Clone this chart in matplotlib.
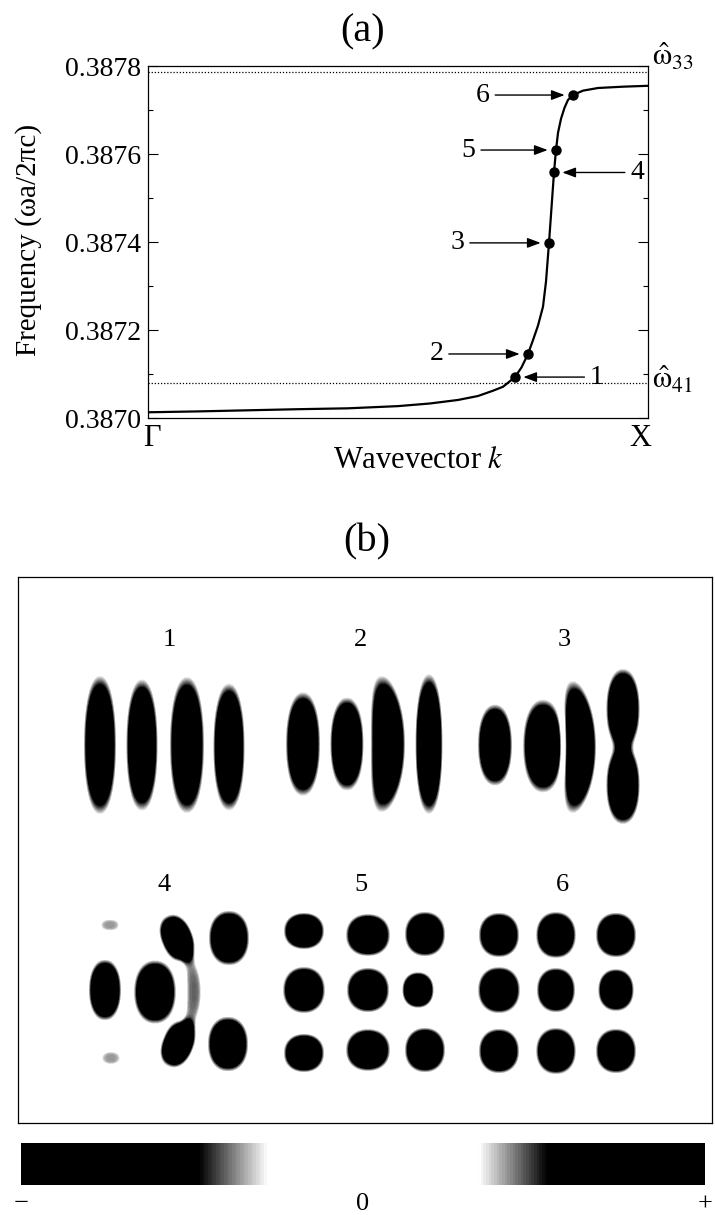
import numpy as np
import matplotlib.pyplot as plt
from matplotlib.colors import LinearSegmentedColormap, Normalize
from matplotlib.cm import ScalarMappable

plt.rcParams['font.family'] = ['Liberation Serif', 'DejaVu Serif']
plt.rcParams['mathtext.fontset'] = 'stix'

# ---- panel (a): band near the anticrossing ----
k_curve = [0.0, 0.1, 0.2, 0.3, 0.4, 0.5, 0.564, 0.62, 0.66, 0.69, 0.71, 0.734,
           0.747, 0.76, 0.77, 0.78, 0.79, 0.796, 0.802, 0.807, 0.812, 0.816,
           0.82, 0.826, 0.833, 0.84, 0.85, 0.87, 0.90, 0.95, 1.0]
freq_curve = [0.387013, 0.387015, 0.3870175, 0.38702, 0.387022, 0.387027,
              0.387033, 0.387041, 0.38705, 0.387062, 0.387071, 0.387093,
              0.387115, 0.3871455, 0.387177, 0.38721, 0.387253, 0.38731,
              0.387398, 0.387478, 0.387558, 0.387609, 0.387648, 0.38768,
              0.387705, 0.387723, 0.387734, 0.387744, 0.38775, 0.387753, 0.387755]

# the six marked states
k_modes = [0.734, 0.76, 0.802, 0.812, 0.816, 0.85]
freq_modes = [0.387093, 0.3871455, 0.387398, 0.387558, 0.387609, 0.387734]
mode_labels = ['1', '2', '3', '4', '5', '6']
label_dx = [59, -66, -66, 60, -63, -65]   # label offset from point (pt)

omega33 = 0.387786
omega41 = 0.3870795
freq_ticks = [0.3870, 0.3872, 0.3874, 0.3876, 0.3878]

# ---- panel (b): field lobes (x, y, half width, half height, tilt, bend, amplitude) ----
mode1_lobes = [(100, 745, 16, 68, 0, 0, 1), (142, 745, 15, 62, 0, 0, -1),
               (187, 745, 17, 67, 0, 0, 1), (229, 747, 15, 60, 0, 0, -1)]
mode2_lobes = [(303, 744, 17, 51, 0, 0, 1), (347, 744, 16, 44, 0, 0, -1),
               (388, 744, 17, 67, 0, 6, 1), (429, 744, 13, 66, 0, 0, -1)]
mode3_lobes = [(495, 745, 17, 40, 0, 0, 1), (543, 746, 19, 44, 0, 0, -1),
               (580, 747, 16, 65, 0, 7, 1), (623, 709, 16, 38, 0, 0, -1),
               (623, 785, 16, 37, 0, 0, -1)]
mode4_lobes = [(110, 925, 13, 8, 0, 0, 0.42), (177, 938, 15, 23, -22, 0, -1),
               (229, 938, 20, 27, 0, 0, 1), (105, 990, 16, 30, 0, 0, 1),
               (155, 992, 20, 30, 0, 0, -1), (194, 992, 9, 44, 0, 8, -0.4),
               (111, 1058, 13, 9, 0, 0, 0.42), (178, 1044, 15, 23, 22, 0, -1),
               (228, 1044, 20, 27, 0, 0, 1)]
mode5_lobes = [(304, 931, 20, 18, 0, 0, 1), (368, 935, 21, 20, 0, 0, -1), (425, 934, 20, 22, 0, 0, 1),
               (304, 990, 20, 22, 0, 0, -1), (368, 990, 21, 22, 0, 0, 1), (418, 990, 15, 17, 0, 0, -1),
               (304, 1053, 20, 19, 0, 0, 1), (368, 1050, 21, 20, 0, 0, -1), (425, 1050, 20, 22, 0, 0, 1)]
mode6_lobes = [(499, 935, 20, 22, 0, 0, 1), (556, 935, 19, 22, 0, 0, -1), (616, 935, 20, 22, 0, 0, 1),
               (499, 990, 20, 22, 0, 0, -1), (556, 990, 19, 22, 0, 0, 1), (616, 990, 17, 20, 0, 0, -1),
               (499, 1051, 20, 22, 0, 0, 1), (556, 1051, 19, 22, 0, 0, -1), (616, 1051, 20, 22, 0, 0, 1)]
panel_label_x = [169, 361, 564, 164, 361, 562]
panel_label_y = [640, 640, 640, 885, 885, 885]

fig = plt.figure(figsize=(7.15, 12.15), dpi=100)

# ---------------- (a) ----------------
ax = fig.add_axes([148 / 715, 1 - 418 / 1215, 500 / 715, 352 / 1215])
ax.plot(k_curve, freq_curve, color='black', lw=1.6)
ax.plot(k_modes, freq_modes, 'o', color='black', ms=6.5)
ax.axhline(omega33, color='black', ls=(0, (1, 1.5)), lw=0.9)
ax.axhline(omega41, color='black', ls=(0, (1, 1.5)), lw=0.9)

for k, f, lab, dx in zip(k_modes, freq_modes, mode_labels, label_dx):
    ax.annotate(lab, xy=(k, f), xytext=(dx, 0), textcoords='offset points',
                ha='center', va='center', fontsize=20,
                arrowprops=dict(arrowstyle='-|>,head_length=0.4,head_width=0.15',
                                color='black', lw=1, shrinkA=2, shrinkB=6,
                                mutation_scale=20))

ax.annotate(r'$\hat{\mathrm{ω}}_{33}$', xy=(1, omega33), xycoords=('axes fraction', 'data'),
            xytext=(3, 11), textcoords='offset points', ha='left', va='center', fontsize=22)
ax.annotate(r'$\hat{\mathrm{ω}}_{41}$', xy=(1, omega41), xycoords=('axes fraction', 'data'),
            xytext=(3, 2), textcoords='offset points', ha='left', va='center', fontsize=22)

ax.set_xlim(0, 1)
ax.set_ylim(0.3870, 0.3878)
ax.set_yticks(freq_ticks)
ax.set_yticklabels([f'{t:.4f}' for t in freq_ticks])
ax.set_yticks(np.arange(0.3871, 0.3878, 0.0002), minor=True)
ax.set_xticks([])
ax.tick_params(axis='y', which='both', direction='in', left=True, right=True,
               labelsize=20, pad=5)
ax.tick_params(axis='y', which='major', length=7, width=0.8)
ax.tick_params(axis='y', which='minor', length=3.5, width=0.8)
for s in ax.spines.values():
    s.set_linewidth(0.9)

ax.text(0.008, -0.057, 'Γ', transform=ax.transAxes, ha='center', va='center', fontsize=22)
ax.text(0.984, -0.057, 'X', transform=ax.transAxes, ha='center', va='center', fontsize=22)
fig.text(419 / 715, 1 - 461 / 1215, 'Wavevector $k$', ha='center', va='center', fontsize=22)
fig.text(29 / 715, 1 - 240 / 1215, 'Frequency (ωa/2πc)', rotation=90,
         ha='center', va='center', fontsize=21)
fig.text(363 / 715, 1 - 32 / 1215, '(a)', ha='center', va='center', fontsize=29)

# ---------------- (b) ----------------
cmap = LinearSegmentedColormap.from_list(
    'absfield', [(0, 'black'), (0.26, 'black'), (0.36, 'white'),
                 (0.67, 'white'), (0.77, 'black'), (1, 'black')])

ax2 = fig.add_axes([18 / 715, 1 - 1123 / 1215, 694 / 715, 546 / 1215])
X, Y = np.meshgrid(np.arange(18.5, 712, 1.0), np.arange(577.5, 1123, 1.0))
field = np.zeros_like(X)
for lobes in [mode1_lobes, mode2_lobes, mode3_lobes, mode4_lobes, mode5_lobes, mode6_lobes]:
    for x0, y0, a, b, tilt, bend, amp in lobes:
        t = np.deg2rad(tilt)
        dx, dy = X - x0, Y - y0
        u = dx * np.cos(t) + dy * np.sin(t)
        v = -dx * np.sin(t) + dy * np.cos(t)
        u = u + bend * (v / b) ** 2
        r = (np.abs(u / a) ** 2.2 + np.abs(v / b) ** 2.2) ** (1 / 2.2)
        field += amp * np.exp(-r ** 4)

ax2.imshow(field, cmap=cmap, vmin=-1, vmax=1, extent=(18, 712, 1123, 577),
           interpolation='bilinear', aspect='auto')
ax2.set_xlim(18, 712)
ax2.set_ylim(1123, 577)
ax2.set_xticks([])
ax2.set_yticks([])
for s in ax2.spines.values():
    s.set_linewidth(0.9)
for x, y, lab in zip(panel_label_x, panel_label_y, mode_labels):
    ax2.text(x, y, lab, ha='center', va='center', fontsize=19)
fig.text(367 / 715, 1 - 542 / 1215, '(b)', ha='center', va='center', fontsize=29)

# colour scale
cax = fig.add_axes([21 / 715, 1 - 1185 / 1215, 684 / 715, 42 / 1215])
sm = ScalarMappable(norm=Normalize(-1, 1), cmap=cmap)
cb = fig.colorbar(sm, cax=cax, orientation='horizontal', ticks=[-1, 0, 1])
cb.set_ticklabels(['−', '0', '+'])
cb.outline.set_visible(False)
cax.tick_params(length=0, labelsize=19, pad=6)

fig.savefig('out.png', dpi=100)
